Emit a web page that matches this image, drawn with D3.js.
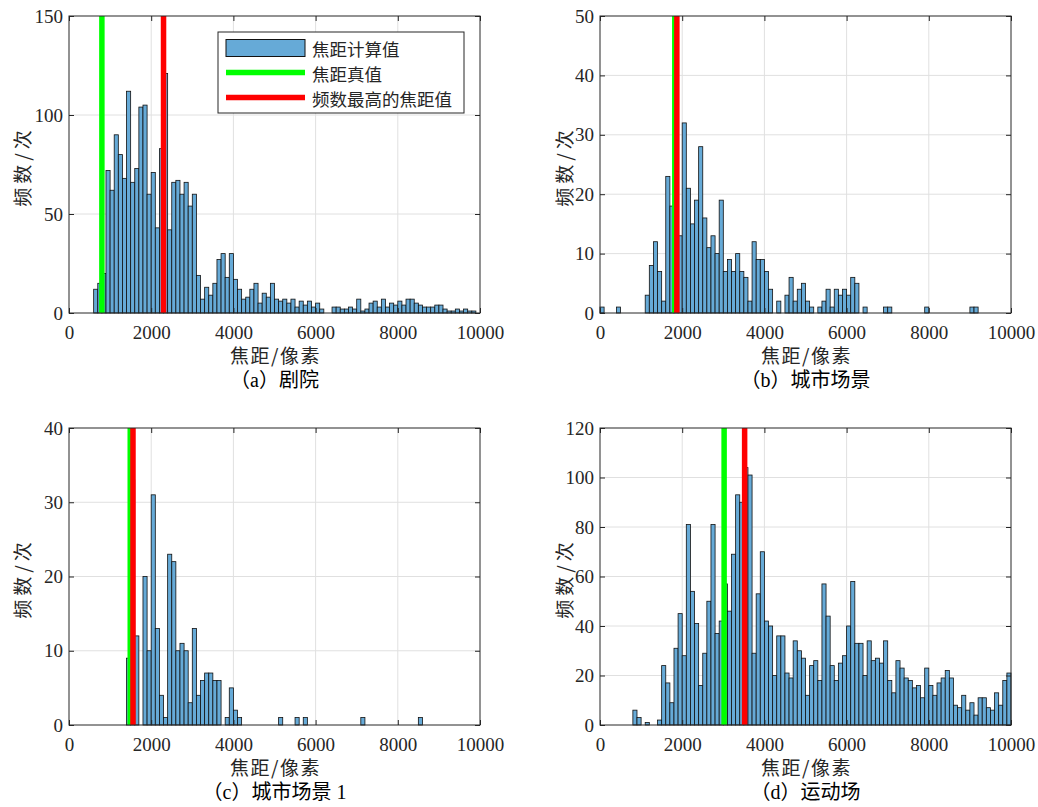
<!DOCTYPE html>
<html>
<head><meta charset="utf-8">
<style>
  body { margin: 0; background: #fff; }
  .tick text { font-family: "Liberation Serif", serif; font-size: 19px; fill: #262626; }
  .tick line { stroke: #262626; }
  .lbl { font-family: "Noto Sans CJK SC", sans-serif; font-size: 19px; fill: #262626; }
  .cap { font-family: "Liberation Serif", "Noto Sans CJK SC", serif; font-size: 20px; fill: #000; }
</style>
</head>
<body>
<script src="https://d3js.org/d3.v7.min.js"></script>
<script>
// bins are 100 px wide, counts listed from the first bin start
var binWidth = 100;
var xTicks = [0, 2000, 4000, 6000, 8000, 10000];

// (a) theatre
var theatreStart = 600;
var theatreCounts = [12, 15, 20, 72, 62, 90, 80, 68, 112, 66, 73, 104, 105, 60, 71, 43, 83, 121, 42, 66,
  67, 60, 66, 54, 60, 19, 7, 13, 9, 15, 27, 30, 18, 30, 17, 12, 7, 8, 12, 15,
  5, 10, 8, 15, 7, 6, 7, 5, 7, 3, 6, 4, 6, 3, 5, 2, 0, 0, 3, 3,
  2, 2, 3, 2, 7, 1, 2, 5, 6, 3, 7, 3, 5, 4, 6, 4, 7, 7, 5, 4,
  3, 3, 3, 4, 4, 2, 1, 1, 2, 1, 2, 1, 1];
var theatreTicks = [0, 50, 100, 150];
var theatreTrue = 800, theatrePeak = 2300;

// (b) city scene
var cityStart = 0;
var cityCounts = [1, 0, 0, 0, 1, 0, 0, 0, 0, 0, 0, 3, 8, 12, 7, 2, 23, 18, 34, 13,
  32, 21, 15, 19, 28, 16, 11, 13, 10, 19, 7, 9, 7, 10, 7, 6, 2, 12, 9, 9,
  7, 4, 0, 2, 0, 3, 6, 2, 4, 5, 2, 1, 0, 1, 2, 4, 1, 4, 3, 4,
  3, 6, 5, 0, 1, 0, 0, 0, 0, 1, 1, 0, 0, 0, 0, 0, 0, 0, 0, 1,
  0, 0, 0, 0, 0, 0, 0, 0, 0, 0, 1, 1];
var cityTicks = [0, 10, 20, 30, 40, 50];
var cityTrue = 1820, cityPeak = 1870;

// (c) city scene 1
var city1Start = 1400;
var city1Counts = [9, 33, 12, 0, 20, 10, 31, 13, 4, 1, 23, 22, 10, 11, 10, 3, 13, 4, 6, 7,
  7, 6, 6, 0, 1, 5, 2, 1, 0, 0, 0, 0, 0, 0, 0, 0, 0, 1, 0, 0,
  0, 1, 0, 1, 0, 0, 0, 0, 0, 0, 0, 0, 0, 0, 0, 0, 0, 1, 0, 0,
  0, 0, 0, 0, 0, 0, 0, 0, 0, 0, 0, 1];
var city1Ticks = [0, 10, 20, 30, 40];
var city1True = 1490, city1Peak = 1557;

// (d) stadium
var stadiumStart = 800;
var stadiumCounts = [6, 3, 0, 1, 0, 0, 2, 24, 17, 9, 31, 45, 28, 81, 54, 41, 16, 29, 50, 81,
  37, 42, 57, 46, 69, 93, 90, 104, 101, 29, 53, 70, 42, 40, 20, 36, 36, 21, 19, 34,
  30, 27, 12, 24, 26, 18, 57, 44, 24, 18, 25, 28, 40, 58, 33, 33, 20, 34, 26, 27,
  25, 34, 18, 13, 26, 23, 19, 18, 15, 16, 11, 23, 16, 12, 17, 19, 22, 19, 8, 7,
  12, 6, 9, 4, 11, 11, 7, 6, 13, 8, 18, 21];
var stadiumTicks = [0, 20, 40, 60, 80, 100, 120];
var stadiumTrue = 3020, stadiumPeak = 3519;

var captions = ["（a）剧院", "（b）城市场景", "（c）城市场景 1", "（d）运动场"];
var legendLabels = ["焦距计算值", "焦距真值", "频数最高的焦距值"];
var xLabel = "焦距/像素", yLabel = "频数/次";

var width = 1038, height = 807;
var W = 411, H = 297;
var barFill = "#66aad7", trueColor = "#00ff00", peakColor = "#ff0000";

var svg = d3.select("body").append("svg")
    .attr("width", width)
    .attr("height", height);

var panels = [
  {counts: theatreCounts, start: theatreStart, ticks: theatreTicks, t: theatreTrue, p: theatrePeak, left: 69, top: 16, ylx: 21, legend: true},
  {counts: cityCounts, start: cityStart, ticks: cityTicks, t: cityTrue, p: cityPeak, left: 600, top: 16, ylx: 563},
  {counts: city1Counts, start: city1Start, ticks: city1Ticks, t: city1True, p: city1Peak, left: 69, top: 428, ylx: 21},
  {counts: stadiumCounts, start: stadiumStart, ticks: stadiumTicks, t: stadiumTrue, p: stadiumPeak, left: 600, top: 428, ylx: 563}
];

panels.forEach(function(pn, k) {
  var x = d3.scaleLinear().domain([0, 10000]).range([0, W]);
  var y = d3.scaleLinear().domain([0, d3.max(pn.ticks)]).range([H, 0]);
  var g = svg.append("g").attr("transform", "translate(" + pn.left + "," + pn.top + ")");

  // grid
  g.append("g").selectAll("line").data(xTicks.slice(1, -1)).enter().append("line")
    .attr("x1", d => x(d)).attr("x2", d => x(d)).attr("y1", 0).attr("y2", H)
    .attr("stroke", "#e0e0e0");
  g.append("g").selectAll("line").data(pn.ticks.slice(1, -1)).enter().append("line")
    .attr("y1", d => y(d)).attr("y2", d => y(d)).attr("x1", 0).attr("x2", W)
    .attr("stroke", "#e0e0e0");

  var bins = pn.counts.map(function(c, i) { return {x0: pn.start + i * binWidth, c: c}; })
    .filter(d => d.c > 0);
  g.append("g").selectAll("rect").data(bins).enter().append("rect")
    .attr("x", d => x(d.x0))
    .attr("width", d => x(d.x0 + binWidth) - x(d.x0))
    .attr("y", d => y(d.c))
    .attr("height", d => H - y(d.c))
    .attr("fill", barFill)
    .attr("stroke", "#111")
    .attr("stroke-width", 0.8);

  g.append("line").attr("x1", x(pn.t)).attr("x2", x(pn.t)).attr("y1", 0).attr("y2", H)
    .attr("stroke", trueColor).attr("stroke-width", 5.5);
  g.append("line").attr("x1", x(pn.p)).attr("x2", x(pn.p)).attr("y1", 0).attr("y2", H)
    .attr("stroke", peakColor).attr("stroke-width", 5.5);

  // axes, ticks pointing inward like matlab
  g.append("g").attr("transform", "translate(0," + H + ")")
    .call(d3.axisBottom(x).tickValues(xTicks).tickSize(-5).tickPadding(13).tickFormat(d3.format("d")))
    .call(a => a.select(".domain").remove());
  g.append("g")
    .call(d3.axisTop(x).tickValues(xTicks).tickSize(-5).tickFormat(""))
    .call(a => a.select(".domain").remove());
  g.append("g")
    .call(d3.axisLeft(y).tickValues(pn.ticks).tickSize(-5).tickPadding(6))
    .call(a => a.select(".domain").remove());
  g.append("g").attr("transform", "translate(" + W + ",0)")
    .call(d3.axisRight(y).tickValues(pn.ticks).tickSize(-5).tickFormat(""))
    .call(a => a.select(".domain").remove());
  g.selectAll(".tick text").attr("font-family", null).attr("font-size", null);

  g.append("rect").attr("width", W).attr("height", H)
    .attr("fill", "none").attr("stroke", "#262626").attr("stroke-width", 1);

  g.append("text").attr("class", "lbl")
    .attr("x", W / 2 + 1).attr("y", H + 41)
    .attr("text-anchor", "middle").attr("dominant-baseline", "central")
    .attr("letter-spacing", 1.5)
    .text(xLabel);
  svg.append("text").attr("class", "lbl")
    .attr("transform", "translate(" + pn.ylx + "," + (pn.top + H / 2 + 2) + ") rotate(-90)")
    .attr("text-anchor", "middle").attr("dominant-baseline", "central")
    .attr("letter-spacing", 4)
    .text(yLabel);
  g.append("text").attr("class", "cap")
    .attr("x", W / 2).attr("y", H + 67)
    .attr("text-anchor", "middle").attr("dominant-baseline", "central")
    .text(captions[k]);

  if (pn.legend) {
    var lg = g.append("g").attr("transform", "translate(149,16)");
    lg.append("rect").attr("width", 246).attr("height", 81)
      .attr("fill", "#fff").attr("stroke", "#262626").attr("stroke-width", 1);
    lg.append("rect").attr("x", 8).attr("y", 7.5).attr("width", 79).attr("height", 17)
      .attr("fill", barFill).attr("stroke", "#111").attr("stroke-width", 1);
    lg.append("line").attr("x1", 8).attr("x2", 87).attr("y1", 40.5).attr("y2", 40.5)
      .attr("stroke", trueColor).attr("stroke-width", 5.5);
    lg.append("line").attr("x1", 8).attr("x2", 87).attr("y1", 65.5).attr("y2", 65.5)
      .attr("stroke", peakColor).attr("stroke-width", 5.5);
    lg.selectAll("text.lt").data(legendLabels).enter().append("text")
      .attr("class", "lbl")
      .style("font-size", "17.5px")
      .attr("x", 94).attr("y", (d, i) => 16 + i * 25)
      .attr("dominant-baseline", "central")
      .text(d => d);
  }
});
</script>
</body>
</html>
